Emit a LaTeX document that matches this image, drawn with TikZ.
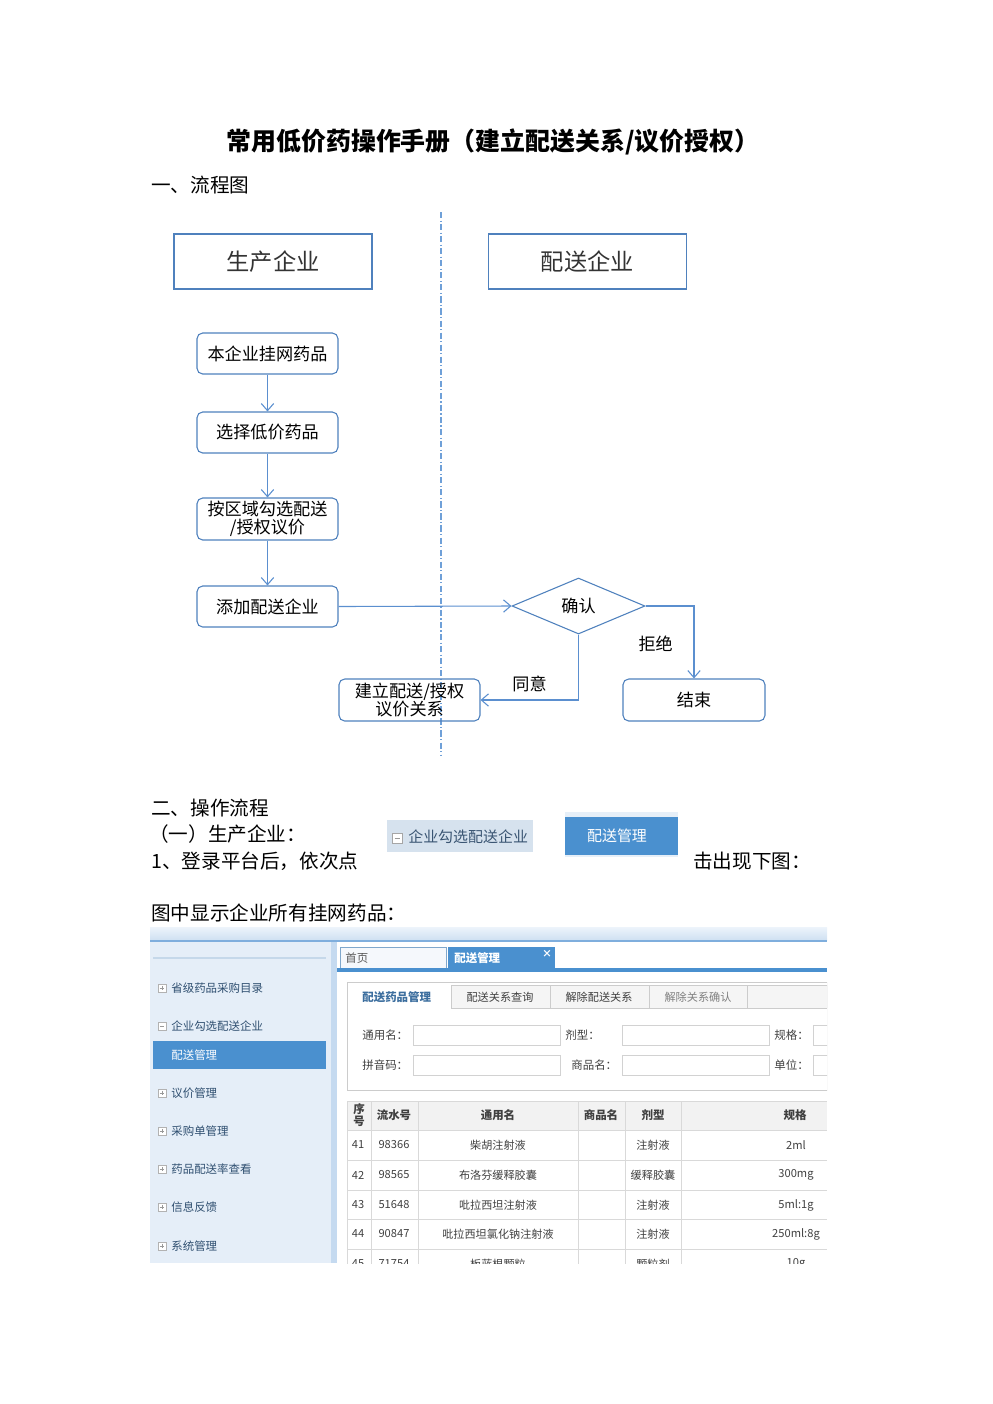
\documentclass[tikz,border=0pt]{standalone}
\usepackage{fontspec}
\setmainfont{Noto Sans CJK SC}
\usetikzlibrary{arrows.meta,positioning,calc,shapes.geometric}

\definecolor{boxblue}{HTML}{4F81BD}
\definecolor{linkblue}{HTML}{5B8FCF}
\definecolor{lanecol}{HTML}{6FA0D8}
\definecolor{menubg}{HTML}{E5EEF8}
\definecolor{selblue}{HTML}{4A90CF}
\definecolor{menutxt}{HTML}{2F4F70}
\definecolor{gridcol}{HTML}{D9D9D9}
\definecolor{btnbg}{HTML}{D6E2EE}
\definecolor{btntxt}{HTML}{3A5573}
\definecolor{btnpale}{HTML}{E6EFF8}
\definecolor{bartop}{HTML}{EDF4FB}
\definecolor{barbot}{HTML}{CFE0F2}
\definecolor{barline}{HTML}{7FAEDD}
\definecolor{sepblue}{HTML}{C5DAF0}
\definecolor{menuline}{HTML}{C5D8EA}
\definecolor{tabline}{HTML}{7FA7CC}
\definecolor{tabbg}{HTML}{F5F8FC}
\definecolor{acttxt}{HTML}{3C6E9E}
\newcommand\pxu{0.2115mm}
\newcommand\fsz[1]{\fontsize{#1}{#1}\selectfont}

\begin{document}
\begin{tikzpicture}[x=\pxu, y=-\pxu,
    body/.style={font=\fsz{11.8}, inner sep=0, anchor=west},
    hdrbox/.style={draw=boxblue, line width=0.65pt, minimum width={198*\pxu}, minimum height={55*\pxu}, font=\fsz{14}, text=black!80},
    proc/.style={draw=boxblue, line width=0.65pt, rounded corners=1.2mm, minimum width={141*\pxu}, minimum height={41*\pxu},
                 inner sep=0, align=center, font=\fontsize{10.3}{10.8}\selectfont},
    decide/.style={diamond, draw=boxblue, line width=0.65pt, minimum width={133*\pxu}, minimum height={56*\pxu}, inner sep=0, font=\fsz{10.3}},
    flow/.style={draw=linkblue, line width=0.65pt, -{Straight Barb[length=1.5mm,width=2.6mm]}},
    lane/.style={draw=lanecol, line width=0.7pt, dash pattern=on 1.3mm off 0.5mm on 0.25mm off 0.5mm},
    menu/.style={font=\fsz{6.9}, text=menutxt, inner sep=0, anchor=west},
    cell/.style={font=\fsz{6.7}, text=black!75, inner sep=0},
    field/.style={draw=gray!35, fill=white}
  ]
  \useasboundingbox (0,0) rectangle (993,1404);

  % Titel
  \node[font=\fontsize{15}{16}\selectfont\bfseries] (title) at (493,142) {常用低价药操作手册（建立配送关系/议价授权）};
  \node[body] (sec1) at (151,185) {一、流程图};

  % Trennlinie
  \coordinate (lt) at (441,212);
  \coordinate (lb) at (441,755);
  \draw[lane] (lt) -- (lb);

  % Spalten
  \node[hdrbox] (prod) at (273,261.5) {生产企业};
  \node[hdrbox] (dist) at (587.5,261.5) {配送企业};

  % Schritte
  \node[proc] (s1) at (267.5,353.5) {本企业挂网药品};
  \node[proc] (s2) at (267.5,432.5) {选择低价药品};
  \node[proc, minimum height={42*\pxu}] (s3) at (267.5,519) {按区域勾选配送\\/授权议价};
  \node[proc] (s4) at (267.5,606.5) {添加配送企业};
  \node[decide] (conf) at (578.5,606) {确认};
  \node[proc, minimum height={42*\pxu}] (rel) at (409.5,700) {建立配送/授权\\议价关系};
  \node[proc, minimum width={142*\pxu}, minimum height={42*\pxu}, font=\fsz{10.3}] (stop) at (694,700) {结束};

  % Pfeile
  \draw[flow] (s1) -- (s2);
  \draw[flow] (s2) -- (s3);
  \draw[flow] (s3) -- (s4);
  \draw[flow] (s4.east) -- (conf.west);
  \draw[flow] (conf.east) -| node[pos=0.76, left=3.2mm, font=\fsz{10.3}] (no) {拒绝} (stop.north);
  \draw[flow] (conf.south) |- node[pos=0.75, above=0.4mm, font=\fsz{10.3}] (yes) {同意} (rel.east);

  % Text Teil 2
  \node[body] (sec2) at (151,808) {二、操作流程};
  \node[body] (sub1) at (149,834) {（一）生产企业：};
  \node[body] (step1) at (151,861) {1、登录平台后，依次点};
  \node[body] (step1b) at (693,861) {击出现下图：};
  \node[body] (cap) at (151,913) {图中显示企业所有挂网药品：};

  % Buttons
  \fill[btnbg] (387,820) rectangle (533,852);
  \draw[gray!70, fill=white] (392,833) rectangle (402,843);
  \draw[gray!80] (394.5,838) -- (399.5,838);
  \node[menu, font=\fsz{9}, text=btntxt] (btn1) at (408,837) {企业勾选配送企业};
  \fill[btnpale] (565,812) rectangle (678,857);
  \fill[selblue] (565,817) rectangle (678,855);
  \node[font=\fsz{9}, text=white, inner sep=0] (btn2) at (617,836) {配送管理};

  % Screenshot
  \begin{scope}
    \clip (150,927) rectangle (827,1263);
    \shade[top color=bartop, bottom color=barbot] (150,927) rectangle (827,940);
    \draw[barline, line width=0.5mm] (150,941) -- (827,941);
    \fill[menubg] (150,942) rectangle (331,1263);
    \fill[sepblue] (331,942) rectangle (337,1263);
    \draw[menuline, line width=0.3mm] (153,958) -- (326,958);

    % Menue
    \fill[selblue] (153,1041) rectangle (326,1069);
    \node[menu, text=white] (mSel) at (171,1055) {配送管理};
    \foreach \y/\t/\s [count=\i] in {988/省级药品采购目录/1, 1026/企业勾选配送企业/0, 1093/议价管理/1, 1131/采购单管理/1,
                                     1169/药品配送率查看/1, 1207/信息反馈/1, 1246/系统管理/1} {
      \draw[gray!60, fill=white, line width=0.3pt] (158,\y-4) rectangle (166,\y+4);
      \draw[gray!80, line width=0.3pt] (159.8,\y) -- (164.2,\y);
      \ifnum\s=1 \draw[gray!80, line width=0.3pt] (162,\y-2.2) -- (162,\y+2.2); \fi
      \node[menu] (m\i) at (171,\y) {\t};
    }

    % Reiter
    \draw[tabline, fill=tabbg, line width=0.3pt] (340,947) rectangle (446,969);
    \node[menu, text=black!65] (tHome) at (345,958) {首页};
    \fill[selblue] (448,947) rectangle (555,969);
    \node[menu, text=white, font=\fsz{6.9}\bfseries] (tDist) at (454,958) {配送管理};
    \node[font=\fsz{6}\bfseries, text=white, inner sep=0] (tX) at (547,954) {×};
    \draw[selblue, line width=0.7mm] (337,970) -- (827,970);

    % Formular
    \draw[gray!40, line width=0.3pt] (347,982) rectangle (827,1090);
    \fill[gray!8] (451,985) rectangle (827,1008);
    \foreach \a/\b in {451/550, 550/649, 649/747, 747/827}
      \draw[gray!40, line width=0.3pt] (\a,1008) -- (\a,985) -- (\b,985) -- (\b,1008);
    \draw[gray!40, line width=0.3pt] (451,1008) -- (827,1008);
    \node[menu, text=acttxt, font=\fsz{6.9}\bfseries] (k1) at (362,997) {配送药品管理};
    \node[cell, text=black!75] (k2) at (500,997) {配送关系查询};
    \node[cell, text=black!75] (k3) at (599,997) {解除配送关系};
    \node[cell, text=black!50] (k4) at (698,997) {解除关系确认};
    \foreach \x/\y/\t [count=\i] in {362/1035/通用名：, 565/1035/剂型：, 774/1035/规格：,
                                     362/1065/拼音码：, 571/1065/商品名：, 774/1065/单位：}
      \node[menu, text=black!75] (f\i) at (\x,\y) {\t};
    \foreach \y in {1025,1055} {
      \draw[field] (413,\y) rectangle (560,\y+20);
      \draw[field] (622,\y) rectangle (769,\y+20);
      \draw[field] (813,\y) rectangle (835,\y+20);
    }

    % Tabelle
    \fill[gray!10] (347,1101) rectangle (827,1130);
    \foreach \c in {347,371,418,578,625,681}
      \draw[gridcol, line width=0.3pt] (\c,1101) -- (\c,1280);
    \foreach \r in {1101,1130,1160,1190,1219,1249}
      \draw[gridcol, line width=0.3pt] (347,\r) -- (827,\r);
    \node[cell, font=\fontsize{6.9}{5.5}\selectfont\bfseries, align=center] (h1) at (359,1115) {序\\号};
    \foreach \x/\t [count=\i from 2] in {394/流水号, 498/通用名, 601/商品名, 653/剂型, 795/规格}
      \node[cell, font=\fsz{6.9}\bfseries] (h\i) at (\x,1115) {\t};
    \foreach \n/\y/\id/\gn/\jx/\gg in {41/1145/98366/柴胡注射液/注射液/2ml, 42/1175/98565/布洛芬缓释胶囊/缓释胶囊/300mg,
                                       43/1205/51648/吡拉西坦注射液/注射液/5ml:1g, 44/1234/90847/吡拉西坦氯化钠注射液/注射液/250ml:8g,
                                       45/1264/71754/板蓝根颗粒/颗粒剂/10g} {
      \node[cell] (no\n) at (358,\y) {\n};
      \node[cell] (id\n) at (394,\y) {\id};
      \node[cell] (gn\n) at (498,\y) {\gn};
      \node[cell] (jx\n) at (653,\y) {\jx};
      \node[cell] (gg\n) at (796,\y) {\gg};
    }
  \end{scope}
\end{tikzpicture}
\end{document}
